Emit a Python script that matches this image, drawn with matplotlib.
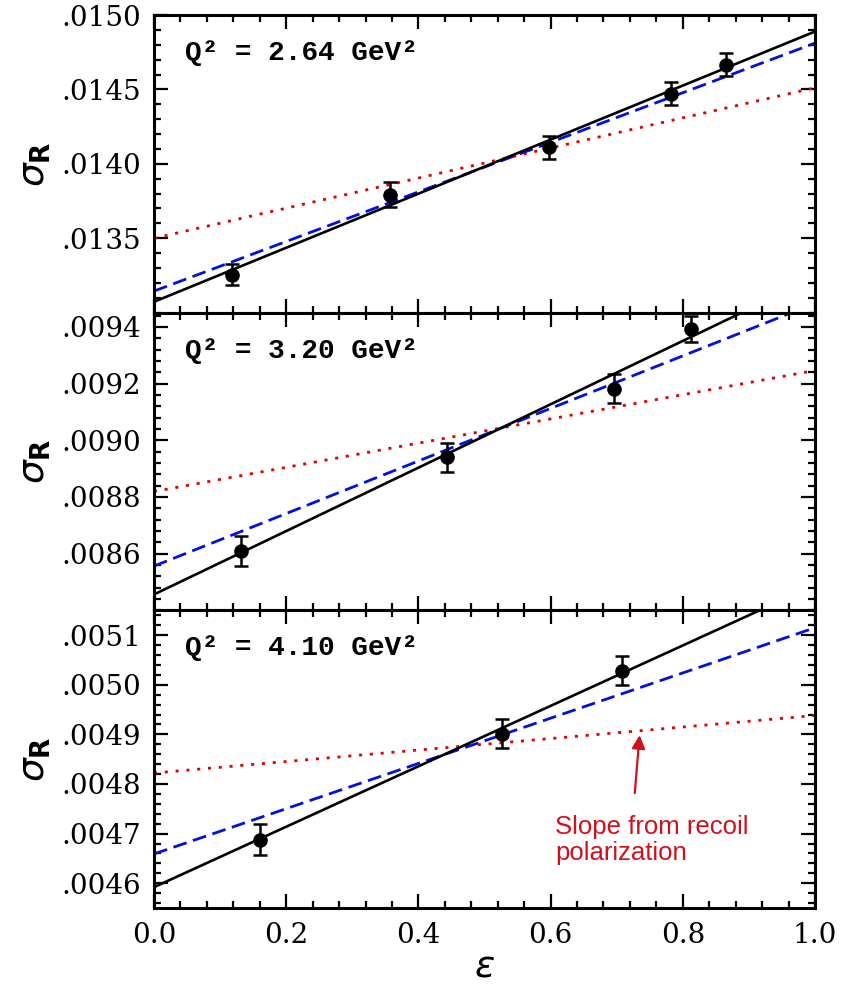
import numpy as np
import matplotlib
matplotlib.use("Agg")
import matplotlib.pyplot as plt
from matplotlib.ticker import MultipleLocator

# --- data ---
q2_labels = ["2.64", "3.20", "4.10"]

eps_top = [0.118, 0.357, 0.597, 0.782, 0.865]
sig_top = [0.013255, 0.013793, 0.014111, 0.014471, 0.014667]
err_top = [0.000072, 0.000085, 0.000078, 0.000078, 0.000076]

eps_mid = [0.132, 0.444, 0.696, 0.813]
sig_mid = [0.00861, 0.00894, 0.009182, 0.009393]
err_mid = [0.000053, 0.000052, 0.000050, 0.000047]

eps_bot = [0.161, 0.526, 0.708]
sig_bot = [0.004688, 0.004901, 0.005028]
err_bot = [0.000031, 0.000029, 0.000029]

# fit lines, values at eps = 0 and eps = 1
line_eps = [0.0, 1.0]
black_top = [0.013073, 0.014889]
blue_top = [0.013145, 0.014811]
red_top = [0.0135, 0.014511]

black_mid = [0.008456, 0.009574]
blue_mid = [0.008556, 0.009483]
red_mid = [0.008819, 0.009246]

black_bot = [0.004592, 0.005201]
blue_bot = [0.004659, 0.005115]
red_bot = [0.004822, 0.004938]

ylims = [(0.0130, 0.0150), (0.0084, 0.00945), (0.00455, 0.00515)]
yticks = [[0.0135, 0.0140, 0.0145, 0.0150],
          [0.0086, 0.0088, 0.0090, 0.0092, 0.0094],
          [0.0046, 0.0047, 0.0048, 0.0049, 0.0050, 0.0051]]
ytick_labels = [[".0135", ".0140", ".0145", ".0150"],
                [".0086", ".0088", ".0090", ".0092", ".0094"],
                [".0046", ".0047", ".0048", ".0049", ".0050", ".0051"]]
yminor = [0.0001, 0.00004, 0.00002]
xticks = [0.0, 0.2, 0.4, 0.6, 0.8, 1.0]
xtick_labels = ["0.0", "0.2", "0.4", "0.6", "0.8", "1.0"]

panels = [(eps_top, sig_top, err_top, black_top, blue_top, red_top),
          (eps_mid, sig_mid, err_mid, black_mid, blue_mid, red_mid),
          (eps_bot, sig_bot, err_bot, black_bot, blue_bot, red_bot)]

fig = plt.figure(figsize=(8.41, 9.85), dpi=100)
left, right, top, bottom = 154/841, 815/841, 1 - 15/985, 1 - 908/985
h = (top - bottom) / 3

tickfont = {"family": "DejaVu Serif", "size": 20}

for i, (ex, sy, er, bl, bu, rd) in enumerate(panels):
    ax = fig.add_axes([left, top - (i + 1) * h, right - left, h])
    ax.plot(line_eps, rd, color="#e00000", lw=2.0, ls=(0, (1.1, 2.8)))
    ax.plot(line_eps, bu, color="#0010e0", lw=2.0, ls=(0, (5.0, 2.4)))
    ax.plot(line_eps, bl, color="black", lw=1.9)
    ax.errorbar(ex, sy, yerr=er, fmt="o", color="black", ms=9.5,
                capsize=5, elinewidth=1.8, capthick=1.8)
    ax.set_xlim(0, 1)
    ax.set_ylim(*ylims[i])
    ax.set_yticks(yticks[i])
    ax.set_yticklabels(ytick_labels[i], fontdict=tickfont)
    ax.yaxis.set_minor_locator(MultipleLocator(yminor[i]))
    ax.set_xticks(xticks)
    ax.xaxis.set_minor_locator(MultipleLocator(0.04))
    if i == 2:
        ax.set_xticklabels(xtick_labels, fontdict=tickfont)
    else:
        ax.set_xticklabels([])
    ax.tick_params(which="both", direction="in", top=True, right=True, width=1.6)
    ax.tick_params(which="major", length=10, pad=9)
    ax.tick_params(which="minor", length=5)
    ax.tick_params(axis="x", which="major", pad=10)
    for s in ax.spines.values():
        s.set_linewidth(2.2)
    ax.text(0.047, 0.872, "Q² = " + q2_labels[i] + " GeV²", transform=ax.transAxes,
            family="Liberation Mono", weight="bold", fontsize=20, va="center")
    ax.set_ylabel(r"$\sigma_{\mathbf{R}}$", fontsize=27, labelpad=6)
    if i == 2:
        ax.set_xlabel(r"$\varepsilon$", fontsize=27, labelpad=0)
        ax.annotate("", xy=(0.735, 0.004904), xytext=(0.727, 0.004776),
                    arrowprops=dict(arrowstyle="-|>", color="#d0101a", lw=1.6,
                                    mutation_scale=20))
        ax.text(0.607, 0.004738, "Slope from recoil\npolarization", color="#d0101a",
                family="Liberation Sans", fontsize=18.5, va="top", linespacing=1.1)

fig.savefig("out.png", dpi=100)
